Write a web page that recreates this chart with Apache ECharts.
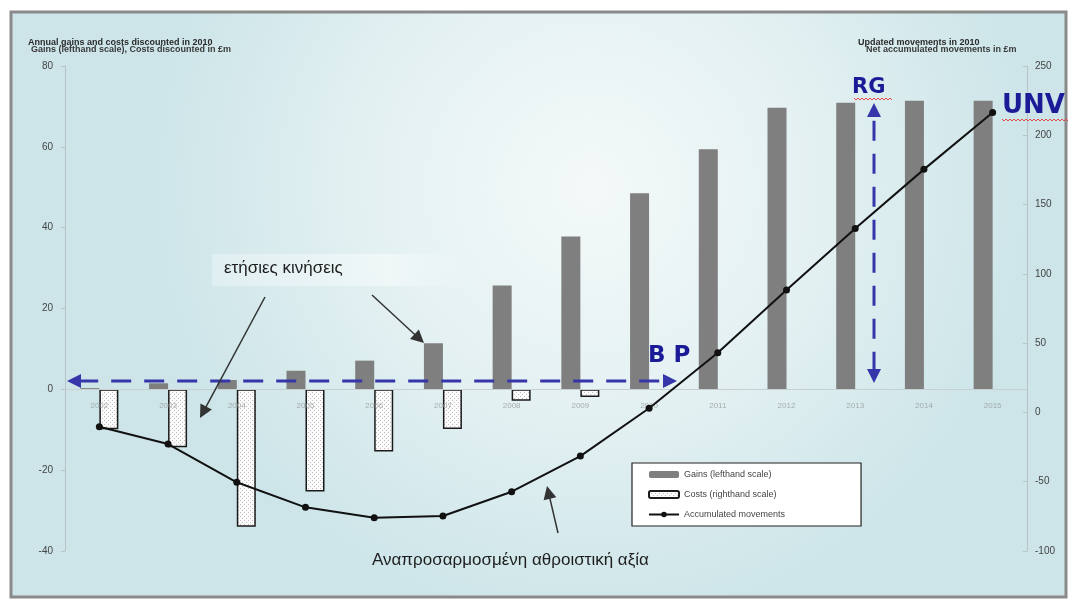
<!DOCTYPE html>
<html>
<head>
<meta charset="utf-8">
<script src="https://cdn.jsdelivr.net/npm/echarts@6/dist/echarts.min.js"></script>
<style>
html,body{margin:0;padding:0;background:#fff;}
#chart{width:1078px;height:600px;}
</style>
</head>
<body>
<div id="chart"></div>
<script>
// ---- data ----
const years = ['2002','2003','2004','2005','2006','2007','2008','2009','2010','2011','2012','2013','2014','2015'];
// Gains, lefthand scale
const gains = [0.3, 1.5, 2.3, 4.6, 7.1, 11.4, 25.7, 37.8, 48.5, 59.4, 69.7, 70.9, 71.4, 71.4];
// Costs (drawn down from the category axis, in lefthand-scale units)
const costs = [-9.9, -14.3, -34.0, -25.3, -15.4, -9.8, -2.8, -1.9, null, null, null, null, null, null];
// Accumulated movements, righthand scale
const accumulated = [-10.3, -22.8, -50.4, -68.5, -76.0, -74.7, -57.2, -31.5, 3.0, 43.1, 88.3, 132.8, 175.4, 216.5];
const seriesNames = ['Gains (lefthand scale)', 'Costs (righthand scale)', 'Accumulated movements'];
const leftAxisRange = [-40, 80, 20];
const rightAxisRange = [-100, 250, 50];

// dotted pattern for the cost bars
const pc = document.createElement('canvas');
pc.width = 4; pc.height = 4;
const pctx = pc.getContext('2d');
pctx.fillStyle = '#fcfbfb'; pctx.fillRect(0,0,4,4);
pctx.fillStyle = '#c4bcbc'; pctx.fillRect(0,0,1,1); pctx.fillRect(2,2,1,1);

function arrow(x1, y1, x2, y2, color, width, dash, head, both, z) {
  const els = [];
  const ang = Math.atan2(y2 - y1, x2 - x1);
  const c = Math.cos(ang), s = Math.sin(ang);
  const hw = head * 0.5;
  function tri(tx, ty, dir) {
    const bx = tx - dir * head * c, by = ty - dir * head * s;
    return { type: 'polygon', z: z,
      shape: { points: [[tx, ty], [bx + hw * s, by - hw * c], [bx - hw * s, by + hw * c]] },
      style: { fill: color } };
  }
  const sx = both ? x1 + head * c * 0.8 : x1, sy = both ? y1 + head * s * 0.8 : y1;
  const ex = x2 - head * c * 0.8, ey = y2 - head * s * 0.8;
  els.push({ type: 'line', z: z, shape: { x1: sx, y1: sy, x2: ex, y2: ey },
    style: { stroke: color, lineWidth: width, lineDash: dash || null } });
  els.push(tri(x2, y2, 1));
  if (both) els.push(tri(x1, y1, -1));
  return els;
}
function wavy(x1, x2, y) {
  const pts = [];
  let up = true;
  for (let x = x1; x <= x2; x += 2) { pts.push([x, up ? y : y + 2]); up = !up; }
  return { type: 'polyline', z: 20, shape: { points: pts }, style: { stroke: '#e24a4a', lineWidth: 1, fill: null } };
}

const chart = echarts.init(document.getElementById('chart'), null, { renderer: 'canvas' });
const blue = '#3636aa';
const navy = '#1b1b98';
const graphics = [
  { type: 'rect', z: -100, shape: { x: 11, y: 12, width: 1055, height: 585 },
    style: { fill: new echarts.graphic.RadialGradient(0.55, 0.3, 0.75, [
      { offset: 0, color: '#f4f9f9' }, { offset: 0.5, color: '#e4f1f2' }, { offset: 1, color: '#cde5e9' }]),
      stroke: '#8a8a8a', lineWidth: 3 } },
  // axis headers
  { type: 'text', z: 20, style: { x: 28, y: 38, text: 'Annual gains and costs discounted in 2010', font: 'bold 9px "Liberation Sans"', fill: '#2a2a2a' } },
  { type: 'text', z: 20, style: { x: 31, y: 45, text: 'Gains (lefthand scale), Costs discounted in £m', font: 'bold 9px "Liberation Sans"', fill: '#3a3a3a' } },
  { type: 'text', z: 20, style: { x: 858, y: 38, text: 'Updated movements in 2010', font: 'bold 9px "Liberation Sans"', fill: '#2a2a2a' } },
  { type: 'text', z: 20, style: { x: 866, y: 45, text: 'Net accumulated movements in £m', font: 'bold 9px "Liberation Sans"', fill: '#3a3a3a' } },
  // annotation "ετήσιες κινήσεις"
  { type: 'rect', z: 5, shape: { x: 212, y: 254, width: 255, height: 32 },
    style: { fill: new echarts.graphic.LinearGradient(0, 0, 1, 0, [
      { offset: 0, color: 'rgba(255,255,255,0.3)' }, { offset: 0.7, color: 'rgba(255,255,255,0.4)' }, { offset: 1, color: 'rgba(255,255,255,0)' }]) } },
  { type: 'text', z: 20, style: { x: 224, y: 260, text: 'ετήσιες κινήσεις', font: '17px "Liberation Sans"', fill: '#1e1e1e' } },
  { type: 'text', z: 20, style: { x: 372, y: 552, text: 'Αναπροσαρμοσμένη αθροιστική αξία', font: '17px "Liberation Sans"', fill: '#1e1e1e' } },
  { type: 'text', z: 20, style: { x: 648, y: 345, text: 'B P', font: 'bold 23px "DejaVu Sans"', fill: navy } },
  { type: 'text', z: 20, style: { x: 852, y: 77, text: 'RG', font: 'bold 21px "DejaVu Sans"', fill: navy } },
  { type: 'text', z: 20, style: { x: 1002, y: 93, text: 'UNV', font: 'bold 26px "DejaVu Sans"', fill: navy } },
  wavy(854, 893, 98), wavy(1002, 1068, 119)
].concat(
  arrow(67, 381, 677, 381, blue, 3, [20, 13], 14, true, 15),
  arrow(874, 383, 874, 103, blue, 3, [20, 13], 14, true, 15),
  arrow(265, 297, 200, 418, '#333', 1.5, null, 13, false, 15),
  arrow(372, 295, 424, 343, '#333', 1.5, null, 13, false, 15),
  arrow(558, 533, 547, 486, '#333', 1.5, null, 13, false, 15)
);

const option = {
  backgroundColor: '#ffffff',
  animation: false,
  textStyle: { fontFamily: '"Liberation Sans", Arial, sans-serif' },
  grid: { left: 65, right: 51, top: 66, bottom: 49, containLabel: false },
  legend: {
    orient: 'vertical', left: 632, top: 463,
    backgroundColor: '#ffffff', borderColor: '#222', borderWidth: 1.2,
    padding: [7, 76, 7, 16], itemGap: 11, itemWidth: 30, itemHeight: 7,
    textStyle: { fontSize: 9, color: '#444' },
    data: seriesNames
  },
  xAxis: {
    type: 'category', data: years,
    offset: -162, z: 3,
    axisLine: { onZero: false, lineStyle: { color: '#c8cfd0', width: 1 } },
    axisTick: { show: false },
    axisLabel: { fontSize: 8, color: 'rgba(150,156,158,0.8)', margin: 13 },
    splitLine: { show: false }
  },
  yAxis: [
    { type: 'value', min: leftAxisRange[0], max: leftAxisRange[1], interval: leftAxisRange[2], position: 'left',
      axisLine: { show: true, lineStyle: { color: '#b9c2c4' } },
      axisTick: { show: true, length: 4, lineStyle: { color: '#b9c2c4' } },
      axisLabel: { fontSize: 10, color: '#444', margin: 12 },
      splitLine: { show: false } },
    { type: 'value', min: rightAxisRange[0], max: rightAxisRange[1], interval: rightAxisRange[2], position: 'right',
      axisLine: { show: true, onZero: false, lineStyle: { color: '#b9c2c4' } },
      axisTick: { show: true, inside: true, length: 4, lineStyle: { color: '#b9c2c4' } },
      axisLabel: { fontSize: 10, color: '#444', margin: 8 },
      splitLine: { show: false } }
  ],
  series: [
    { name: seriesNames[0], type: 'bar', yAxisIndex: 0, data: gains,
      barWidth: 19, barGap: '0%',
      itemStyle: { color: '#7f7f7f' } },
    { name: seriesNames[1], type: 'bar', yAxisIndex: 0, data: costs,
      barWidth: 19, barGap: '0%',
      itemStyle: { color: { image: pc, repeat: 'repeat' }, borderColor: '#1a1a1a', borderWidth: 1.5 } },
    { name: seriesNames[2], type: 'line', yAxisIndex: 1, data: accumulated,
      symbol: 'circle', symbolSize: 7, z: 5,
      lineStyle: { color: '#111', width: 2 },
      itemStyle: { color: '#111' } }
  ],
  graphic: graphics
};
chart.setOption(option);
</script>
</body>
</html>
